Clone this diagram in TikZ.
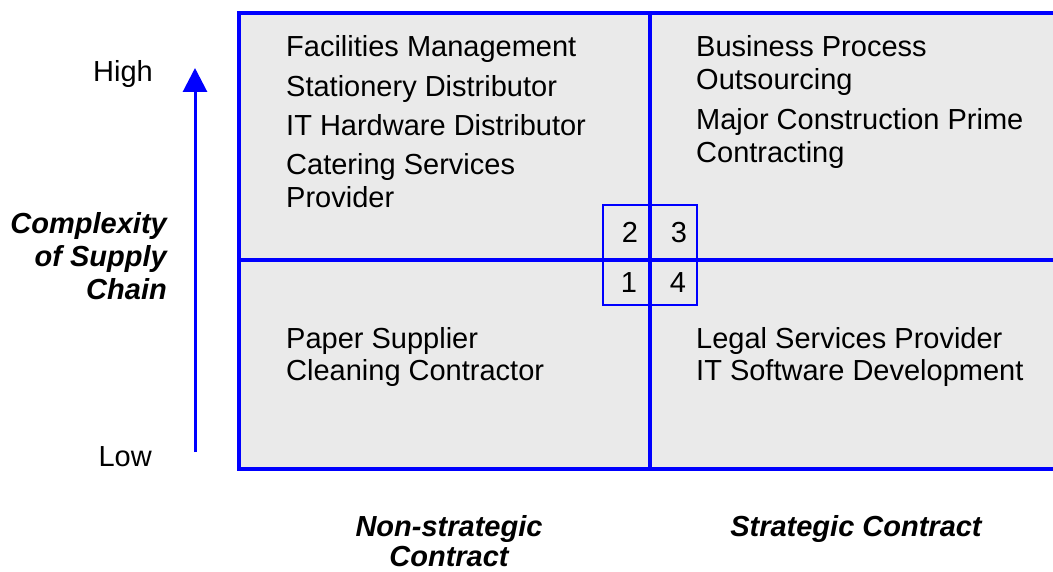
\documentclass[tikz,border=0pt]{standalone}
\usepackage{fontspec}
\setmainfont{Liberation Sans}
\usetikzlibrary{arrows.meta}
\definecolor{quadfill}{HTML}{EAEAEA}
\definecolor{pureblue}{HTML}{0000FF}
\begin{document}
\begin{tikzpicture}[x=1pt,y=-1pt,
  every node/.style={inner sep=0pt, font=\fontsize{29}{33}\selectfont},
  qtext/.style={anchor=base west},
  axislbl/.style={anchor=base east},
  boldlbl/.style={font=\fontsize{29}{33}\selectfont\bfseries\itshape},
  numlbl/.style={anchor=base},
  frameline/.style={draw=pureblue, line width=3.5pt},
  smallbox/.style={draw=pureblue, line width=2.5pt}]
\useasboundingbox (0,0) rectangle (1053,572);
% matrix frame
\begin{scope}
\clip (0,0) rectangle (1053,572);
\fill[quadfill] (239,13) rectangle (1070,469);
\draw[frameline] (1070,13) -- (239,13) -- (239,469) -- (1070,469);
\draw[frameline] (650,13) -- (650,469);
\draw[frameline] (239,260) -- (1070,260);
\end{scope}
% small central box
\draw[smallbox] (603,205) rectangle (697,305);
\node[numlbl] (n2) at (630,242.5) {2};
\node[numlbl] (n3) at (679,242.5) {3};
\node[numlbl] (n1) at (629,292.5) {1};
\node[numlbl] (n4) at (678,292.5) {4};
% top-left quadrant
\node[qtext] (tl1) at (286,57) {Facilities Management};
\node[qtext] (tl2) at (286,96.5) {Stationery Distributor};
\node[qtext] (tl3) at (286,136) {IT Hardware Distributor};
\node[qtext] (tl4) at (286,175) {Catering Services};
\node[qtext] (tl5) at (286,208) {Provider};
% top-right quadrant
\node[qtext] (tr1) at (696,57) {Business Process};
\node[qtext] (tr2) at (696,90) {Outsourcing};
\node[qtext] (tr3) at (696,129.5) {Major Construction Prime};
\node[qtext] (tr4) at (696,162.5) {Contracting};
% bottom-left quadrant
\node[qtext] (bl1) at (286,348.5) {Paper Supplier};
\node[qtext] (bl2) at (286,381) {Cleaning Contractor};
% bottom-right quadrant
\node[qtext] (br1) at (696,348.5) {Legal Services Provider};
\node[qtext] (br2) at (696,381) {IT Software Development};
% vertical axis
\node[axislbl] (high) at (153,82) {High};
\node[axislbl] (low) at (152,466) {Low};
\coordinate (arrowlow) at (195,452);
\coordinate (arrowhigh) at (195,68);
\draw[draw=pureblue, line width=3pt, -{Triangle[length=24pt,width=24pt]}] (arrowlow) -- (arrowhigh);
\node[axislbl, boldlbl] (cx1) at (167,234) {Complexity};
\node[axislbl, boldlbl] (cx2) at (167,267) {of Supply};
\node[axislbl, boldlbl] (cx3) at (167,300) {Chain};
% horizontal axis labels
\node[numlbl, boldlbl] (ns1) at (449,536) {Non-strategic};
\node[numlbl, boldlbl] (ns2) at (449,566) {Contract};
\node[numlbl, boldlbl] (sc) at (856,536) {Strategic Contract};
\end{tikzpicture}
\end{document}
